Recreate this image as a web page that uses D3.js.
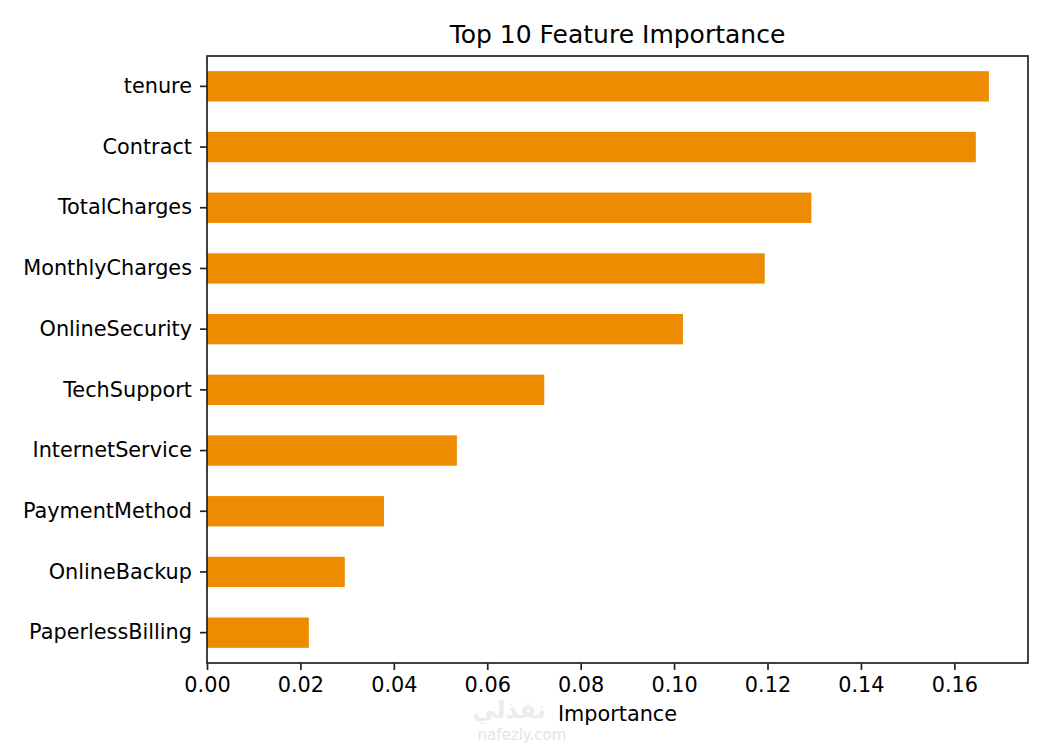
<!DOCTYPE html>
<html><head><meta charset="utf-8">
<script src="https://cdn.jsdelivr.net/npm/d3@7"></script>
<style>body{margin:0;background:#fff}svg{display:block}text{font-family:"DejaVu Sans",sans-serif;fill:#000}</style>
</head><body><svg id="c" width="1050" height="750"></svg>
<script>
const categories = ["tenure","Contract","TotalCharges","MonthlyCharges","OnlineSecurity","TechSupport","InternetService","PaymentMethod","OnlineBackup","PaperlessBilling"];
const importance = [0.1674,0.1646,0.1294,0.1194,0.1019,0.0722,0.0535,0.0379,0.0295,0.0218];
const xTicks = [0,0.02,0.04,0.06,0.08,0.10,0.12,0.14,0.16];
const title = "Top 10 Feature Importance";
const xLabel = "Importance";

const svg = d3.select("#c");
const m = {l:207, t:56, r:22, b:87};
const W = 1050 - m.l - m.r, H = 750 - m.t - m.b;

// faint watermark (drawn first, beneath everything)
svg.append("text").attr("x",509).attr("y",718).attr("text-anchor","middle").attr("font-size",24).attr("font-weight","bold").style("fill","#ececec").text("نفذلي");
svg.append("text").attr("x",522).attr("y",740).attr("text-anchor","middle").attr("font-size",15).style("fill","#e4e4e4").text("nafezly.com");

const g = svg.append("g").attr("transform",`translate(${m.l},${m.t})`);
const x = d3.scaleLinear().domain([0, d3.max(importance)*1.05]).range([0,W]);
const y = d3.scaleBand().domain(categories).range([0,H]).padding(0);
const bh = y.bandwidth()*0.5;

g.selectAll("rect.bar").data(categories).join("rect").attr("class","bar")
  .attr("x",x(0)).attr("y",d=>y(d)+y.bandwidth()/2-bh/2)
  .attr("width",(d,i)=>x(importance[i])-x(0)).attr("height",bh).attr("fill","#ED8C00");

const xa = g.append("g").attr("transform",`translate(0,${H})`)
  .call(d3.axisBottom(x).tickValues(xTicks).tickFormat(d3.format(".2f")).tickSize(7).tickPadding(7));
const ya = g.append("g").call(d3.axisLeft(y).tickSize(7).tickPadding(8));
[xa,ya].forEach(a=>{a.select(".domain").remove();a.selectAll("line").attr("stroke","#222").attr("stroke-width",1.7);a.selectAll("text").attr("font-size",20.8).attr("font-family","DejaVu Sans").attr("fill","#000");});

g.append("rect").attr("x",0).attr("y",0).attr("width",W).attr("height",H).attr("fill","none").attr("stroke","#222").attr("stroke-width",1.7);

svg.append("text").attr("x",m.l+W/2).attr("y",43).attr("text-anchor","middle").attr("font-size",25).text(title);
svg.append("text").attr("x",m.l+W/2).attr("y",721).attr("text-anchor","middle").attr("font-size",20.8).text(xLabel);
</script></body></html>
